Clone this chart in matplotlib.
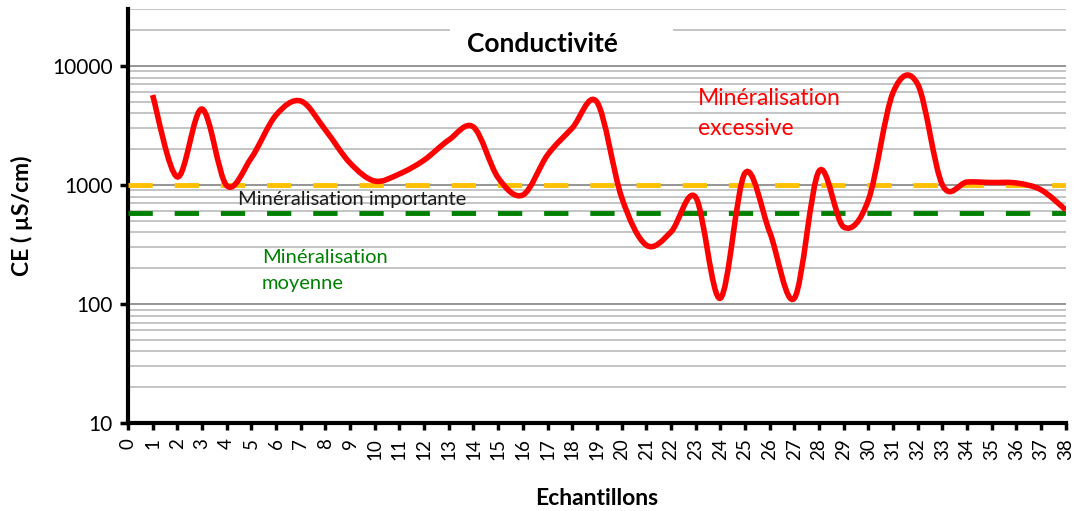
import numpy as np
import matplotlib
matplotlib.use("Agg")
import matplotlib.pyplot as plt
from matplotlib.path import Path
from matplotlib.patches import PathPatch, Rectangle
from matplotlib.ticker import LogLocator, NullFormatter, FixedLocator

plt.rcParams['font.family'] = ['Lato', 'DejaVu Sans']

# données
echantillons = list(range(1, 39))
ce = [5700, 1170, 4350, 990, 1690, 3870, 5080, 2900, 1530, 1080,
      1240, 1620, 2390, 3070, 1150, 825, 1790, 3010, 4980, 790,
      313, 403, 790, 112, 1260, 403, 112, 1310, 444, 750,
      6000, 7000, 1000, 1060, 1050, 1040, 910, 617]
seuil_important = 1000
seuil_moyen = 580
x_ticks = list(range(0, 39))


def smooth_path(x, y):
    # courbe lissée type Excel (Bezier / Catmull-Rom) en espace log
    ly = np.log10(y)
    n = len(x)
    verts = [(x[0], y[0])]
    codes = [Path.MOVETO]
    for i in range(n - 1):
        x0, y0 = (x[i - 1], ly[i - 1]) if i > 0 else (x[i], ly[i])
        x1, y1 = x[i], ly[i]
        x2, y2 = x[i + 1], ly[i + 1]
        x3, y3 = (x[i + 2], ly[i + 2]) if i + 2 < n else (x2, y2)
        c1 = (x1 + (x2 - x0) / 6, y1 + (y2 - y0) / 6)
        c2 = (x2 - (x3 - x1) / 6, y2 - (y3 - y1) / 6)
        verts += [(c1[0], 10 ** c1[1]), (c2[0], 10 ** c2[1]), (x2, 10 ** y2)]
        codes += [Path.CURVE4] * 3
    return Path(verts, codes)


fig = plt.figure(figsize=(10.75, 5.11), dpi=100)
ax = fig.add_axes([0.119, 0.172, 0.8725, 0.81])

ax.set_yscale('log')
ax.set_ylim(10, 30000)
ax.set_xlim(0, 38)

ax.yaxis.set_major_locator(FixedLocator([10, 100, 1000, 10000]))
ax.yaxis.set_minor_locator(LogLocator(base=10, subs=np.arange(2, 10)))
ax.yaxis.set_minor_formatter(NullFormatter())
ax.set_yticklabels(['10', '100', '1000', '10000'])
ax.grid(which='major', axis='y', color='#8c8c8c', lw=1.3, zorder=0)
ax.grid(which='minor', axis='y', color='#bfbfbf', lw=1.3, zorder=0)
ax.tick_params(axis='y', which='minor', length=0)
ax.tick_params(axis='y', which='major', length=6, width=2.5, direction='out',
               labelsize=15, pad=5)

ax.set_xticks(x_ticks)
ax.set_xticklabels([str(v) for v in x_ticks], rotation=90)
ax.tick_params(axis='x', length=5, width=2.5, direction='out', labelsize=13.5, pad=6)

for s in ['top', 'right']:
    ax.spines[s].set_visible(False)
for s in ['left', 'bottom']:
    ax.spines[s].set_linewidth(3)

ax.axhline(seuil_important, color='#FFC000', lw=3.5, dashes=(5, 4.5), zorder=3)
ax.axhline(seuil_moyen, color='#008000', lw=3.5, dashes=(5, 4.5), zorder=3)

ax.add_patch(PathPatch(smooth_path(echantillons, ce), facecolor='none',
                       edgecolor='#FF0000', lw=4, zorder=4, capstyle='butt'))

ax.set_ylabel('CE ( \u00b5S/cm)', fontsize=16.5, fontweight='bold', labelpad=14)
ax.set_xlabel('Echantillons', fontsize=16.5, fontweight='bold', labelpad=20)

# cadre blanc du titre (cache la grille derrière)
fig.patches.append(Rectangle((0.4186, 0.887), 0.2074, 0.074, transform=fig.transFigure,
                             facecolor='white', edgecolor='none', zorder=1))
fig.text(0.505, 0.913, 'Conductivité', fontsize=19, fontweight='bold',
         ha='center', va='center', zorder=2)

ax.text(0.608, 0.81, 'Minéralisation\nexcessive', transform=ax.transAxes,
        color='#FF0000', fontsize=16.5, va='top', ha='left', linespacing=1.55)
ax.text(0.1175, 0.54, 'Minéralisation importante', transform=ax.transAxes,
        color='#1a1a1a', fontsize=14.5, va='center', ha='left')
ax.text(0.143, 0.42, 'Minéralisation\nmoyenne', transform=ax.transAxes,
        color='#008000', fontsize=14.5, va='top', ha='left', linespacing=1.6)

fig.savefig('out.png', dpi=100)
